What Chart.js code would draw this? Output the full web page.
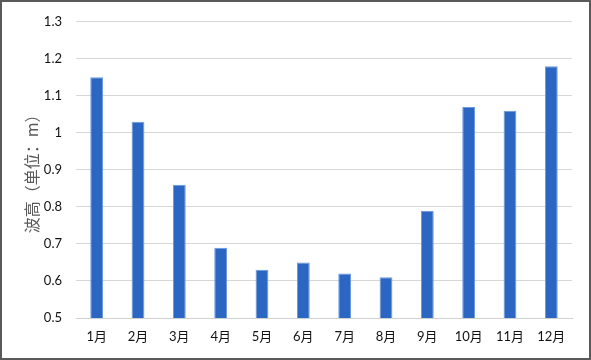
<!DOCTYPE html>
<html>
<head>
<meta charset="utf-8">
<script src="https://cdn.jsdelivr.net/npm/chart.js@4"></script>
<style>
html,body{margin:0;padding:0;background:#fff;}
#wrap{width:591px;height:360px;position:relative;}
</style>
</head>
<body>
<div id="wrap"><canvas id="c" width="591" height="360"></canvas></div>
<script>
const months = ['1月','2月','3月','4月','5月','6月','7月','8月','9月','10月','11月','12月'];
const waveHeight = [1.15, 1.03, 0.86, 0.69, 0.63, 0.65, 0.62, 0.61, 0.79, 1.07, 1.06, 1.18];
const yMin = 0.5, yMax = 1.3, yStep = 0.1;
const yTitle = '波高（单位：m）';

const borderPlugin = {
  id: 'outerBorder',
  afterDraw(chart) {
    const ctx = chart.ctx;
    ctx.save();
    ctx.strokeStyle = '#595959';
    ctx.lineWidth = 2;
    ctx.strokeRect(1, 1, chart.width - 2, chart.height - 2);
    ctx.restore();
  }
};

new Chart(document.getElementById('c'), {
  type: 'bar',
  data: {
    labels: months,
    datasets: [{
      data: waveHeight,
      backgroundColor: '#2c66c3',
      borderColor: '#6a98de',
      borderWidth: 1,
      categoryPercentage: 1,
      barPercentage: 0.31
    }]
  },
  options: {
    responsive: false,
    animation: false,
    devicePixelRatio: 1,
    layout: { padding: { top: 19, right: 19, bottom: 0, left: 0 } },
    plugins: { legend: { display: false }, tooltip: { enabled: false } },
    scales: {
      x: {
        grid: { display: false, drawTicks: false },
        border: { color: '#d0d0d0', width: 1 },
        ticks: { color: '#111', font: { family: "Lato, 'Noto Sans CJK SC'", size: 13 }, padding: 11, maxRotation: 0 },
        afterFit(s) { s.height = 42; }
      },
      y: {
        min: yMin, max: yMax,
        grid: { color: '#d6d6d6', drawTicks: false, lineWidth: 1 },
        border: { display: false },
        ticks: {
          stepSize: yStep,
          color: '#111',
          padding: 14,
          font: { family: "Lato, 'Noto Sans CJK SC'", size: 13 },
          callback: v => Math.round(v * 10) / 10 + ''
        },
        title: {
          display: true,
          text: yTitle,
          color: '#595959',
          font: { family: "'Noto Sans CJK SC'", size: 16 },
          padding: { top: 22, bottom: 0 }
        },
        afterFit(s) { s.width = 76; }
      }
    }
  },
  plugins: [borderPlugin]
});
</script>
</body>
</html>
